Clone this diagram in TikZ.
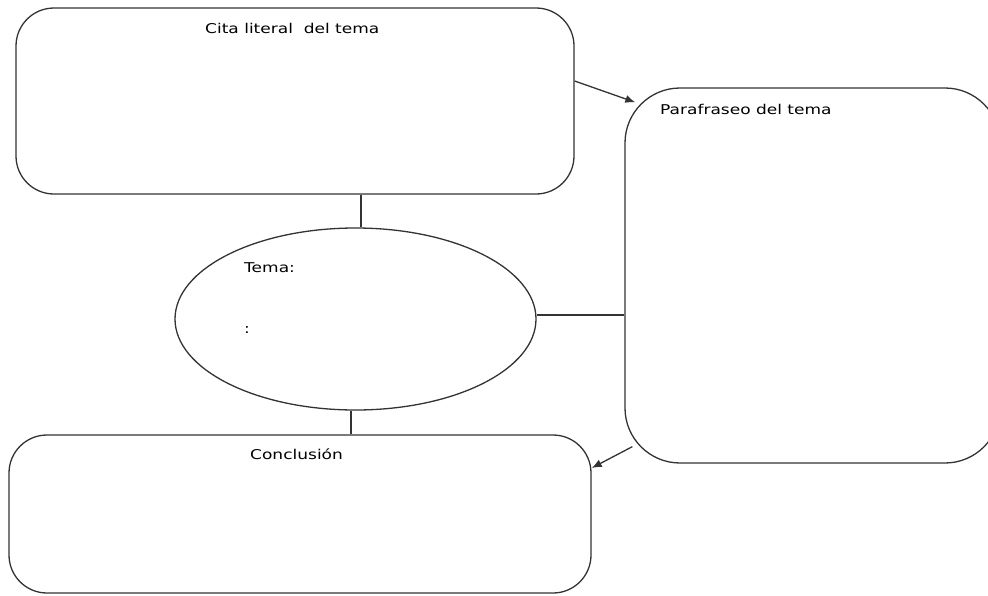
\documentclass[tikz,border=0pt]{standalone}
\usepackage{fontspec}
\setmainfont{DejaVu Sans}
\usetikzlibrary{shapes.geometric,arrows.meta}
\tikzset{
  box/.style={draw=black!80, line width=1.3pt, rectangle, rounded corners=38pt, inner sep=0pt},
  oval/.style={draw=black!80, line width=1.3pt, ellipse, inner sep=0pt},
  link/.style={draw=black!80, line width=1.3pt},
  arr/.style={link, -{Latex[length=10pt,width=8pt]}},
  lbl/.style={anchor=base west, inner sep=0pt, text=black, font=\fontsize{13.5}{16}\selectfont}
}
\newcommand{\wtxt}[1]{\scalebox{1.26}[1]{#1}}
\begin{document}
\begin{tikzpicture}[x=1pt,y=-1pt]
\useasboundingbox (0,0) rectangle (988,595);
\begin{scope}
\clip (0,0) rectangle (988,595);
\node[box, minimum width=558pt, minimum height=186pt] (cita) at (295,101) {};
\node[box, rounded corners=55pt, minimum width=375pt, minimum height=375pt] (para) at (812.5,275.5) {};
\node[box, minimum width=582pt, minimum height=158pt] (concl) at (300,514) {};
\node[oval, minimum width=361pt, minimum height=182pt] (tema) at (355.5,319) {};
\end{scope}
\node[lbl] (t1) at (205,33) {\wtxt{Cita literal\ \ del tema}};
\node[lbl] (t2) at (660,114) {\wtxt{Parafraseo del tema}};
\node[lbl] (t3) at (244,272) {\wtxt{Tema:}};
\node[lbl] (t4) at (244,333) {\wtxt{:}};
\node[lbl] (t5) at (250,459) {\wtxt{Conclusión}};
\draw[link] ([xshift=5.5pt]tema.north) -- ([xshift=5.5pt]tema.north |- cita.south);
\draw[link] ([xshift=-4.5pt]tema.south) -- ([xshift=-4.5pt]tema.south |- concl.north);
\draw[link] ([yshift=4pt]tema.east) -- ([yshift=4pt]tema.east -| para.west);
\draw[arr] ([yshift=20pt]cita.east) -- ([xshift=11pt,yshift=-15pt]para.north west);
\draw[arr] ([xshift=8pt,yshift=17pt]para.south west) -- ([yshift=46pt]concl.east);
\end{tikzpicture}
\end{document}
